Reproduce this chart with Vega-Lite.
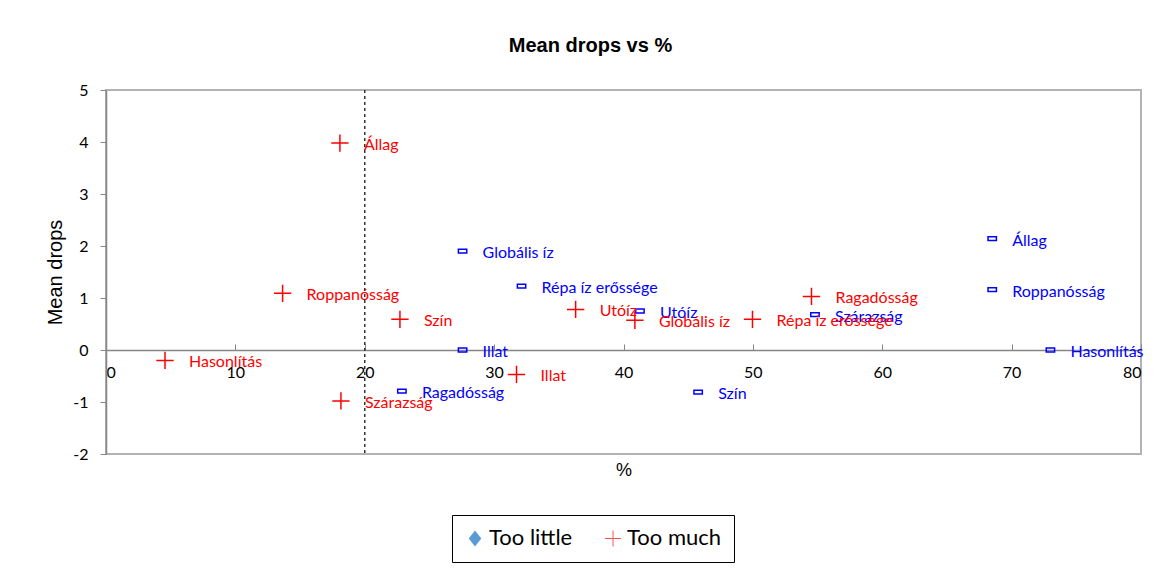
{
  "$schema": "https://vega.github.io/schema/vega-lite/v6.json",
  "width": 1035,
  "height": 364,
  "autosize": {"type": "none"},
  "padding": {"left": 106, "top": 90, "right": 28, "bottom": 118},
  "background": "white",
  "title": {"text": "Mean drops vs %", "font": "Liberation Sans", "fontSize": 20, "fontWeight": "bold", "color": "#000000", "offset": 26, "dx": -33},
  "data": {"values": [
    {"series": "Too little", "label": "Globális íz", "pct": 27.56, "drops": 1.9},
    {"series": "Too little", "label": "Répa íz erőssége", "pct": 32.12, "drops": 1.23},
    {"series": "Too little", "label": "Illat", "pct": 27.56, "drops": 0.0},
    {"series": "Too little", "label": "Utóíz", "pct": 41.27, "drops": 0.75},
    {"series": "Too little", "label": "Szín", "pct": 45.77, "drops": -0.81},
    {"series": "Too little", "label": "Ragadósság", "pct": 22.87, "drops": -0.79},
    {"series": "Too little", "label": "Szárazság", "pct": 54.8, "drops": 0.68},
    {"series": "Too little", "label": "Állag", "pct": 68.5, "drops": 2.14},
    {"series": "Too little", "label": "Roppanósság", "pct": 68.5, "drops": 1.16},
    {"series": "Too little", "label": "Hasonlítás", "pct": 73.0, "drops": 0.0},
    {"series": "Too much", "label": "Állag", "pct": 18.08, "drops": 3.98},
    {"series": "Too much", "label": "Roppanósság", "pct": 13.65, "drops": 1.09},
    {"series": "Too much", "label": "Szín", "pct": 22.72, "drops": 0.59},
    {"series": "Too much", "label": "Hasonlítás", "pct": 4.56, "drops": -0.2},
    {"series": "Too much", "label": "Szárazság", "pct": 18.16, "drops": -0.98},
    {"series": "Too much", "label": "Illat", "pct": 31.73, "drops": -0.47},
    {"series": "Too much", "label": "Utóíz", "pct": 36.3, "drops": 0.78},
    {"series": "Too much", "label": "Globális íz", "pct": 40.88, "drops": 0.57},
    {"series": "Too much", "label": "Répa íz erőssége", "pct": 49.97, "drops": 0.59},
    {"series": "Too much", "label": "Ragadósság", "pct": 54.53, "drops": 1.03}
  ]},
  "encoding": {
    "x": {"field": "pct", "type": "quantitative",
      "scale": {"domain": [0, 80], "nice": false},
      "axis": {"title": "%", "offset": -104, "values": [0, 10, 20, 30, 40, 50, 60, 70, 80],
        "grid": false, "domainColor": "#868686", "domainWidth": 1.5, "tickColor": "#868686", "tickSize": -6,
        "labelPadding": 20, "labelFont": "Lato", "labelFontSize": 16, "labelColor": "#000000",
        "titleFont": "Liberation Sans", "titleFontSize": 18, "titleFontWeight": "normal", "titleColor": "#000000",
        "titleY": 120, "titleBaseline": "middle"}},
    "y": {"field": "drops", "type": "quantitative",
      "scale": {"domain": [-2, 5], "nice": false},
      "axis": {"title": "Mean drops", "values": [-2, -1, 0, 1, 2, 3, 4, 5],
        "labelExpr": "replace(datum.label, '−', '-')",
        "grid": false, "domainColor": "#868686", "domainWidth": 1.5, "tickColor": "#868686", "tickSize": 6,
        "labelPadding": 12, "labelFont": "Lato", "labelFontSize": 16, "labelColor": "#000000",
        "titleFont": "Liberation Sans", "titleFontSize": 20, "titleFontWeight": "normal", "titleColor": "#000000",
        "titleX": -51, "titleY": 182, "titleAngle": -90, "titleAlign": "center", "titleBaseline": "middle"}}
  },
  "layer": [
    {
      "data": {"values": [{"ref": 20}]},
      "mark": {"type": "rule", "color": "#333333", "strokeDash": [3, 3], "strokeWidth": 1.5},
      "encoding": {"x": {"field": "ref", "type": "quantitative"}, "y": null}
    },
    {
      "transform": [{"filter": "datum.series === 'Too little'"}],
      "mark": {"type": "point", "filled": false, "shape": "M-1,-0.45H1V0.45H-1Z", "size": 70, "strokeWidth": 1.5, "color": "#0000ff", "opacity": 1}
    },
    {
      "transform": [{"filter": "datum.series === 'Too much'"}],
      "mark": {"type": "point", "filled": false, "shape": "M-1,0H1M0,-1V1", "size": 300, "strokeWidth": 1.5, "color": "#ff0000", "opacity": 1}
    },
    {
      "data": {"values": []},
      "mark": {"type": "point", "filled": true, "opacity": 1, "strokeWidth": 0},
      "encoding": {
        "fill": {"field": "series", "type": "nominal",
          "scale": {"domain": ["Too little", "Too much"], "range": ["#5b9bd5", "#ff5050"]},
          "legend": {"title": null, "orient": "none", "legendX": 346, "legendY": 425, "direction": "horizontal",
            "strokeColor": "#000000", "padding": 12, "labelFont": "Lato", "labelFontSize": 22, "labelColor": "#000000",
            "symbolSize": 260, "columnPadding": 28, "labelOffset": 3}},
        "shape": {"field": "series", "type": "nominal",
          "scale": {"domain": ["Too little", "Too much"], "range": ["M0,-1L0.78,0L0,1L-0.78,0Z", "M-1,-0.06H-0.06V-1H0.06V-0.06H1V0.06H0.06V1H-0.06V0.06H-1Z"]},
          "legend": {"title": null, "orient": "none", "legendX": 346, "legendY": 425, "direction": "horizontal",
            "strokeColor": "#000000", "padding": 12, "labelFont": "Lato", "labelFontSize": 22, "labelColor": "#000000",
            "symbolSize": 260, "columnPadding": 28, "labelOffset": 3}}
      }
    },
    {
      "transform": [{"filter": "datum.series === 'Too little'"}],
      "mark": {"type": "text", "align": "left", "baseline": "middle", "dx": 20, "dy": 2, "font": "Lato", "fontSize": 16, "color": "#0000ff"},
      "encoding": {"text": {"field": "label"}}
    },
    {
      "transform": [{"filter": "datum.series === 'Too much'"}],
      "mark": {"type": "text", "align": "left", "baseline": "middle", "dx": 24, "dy": 2, "font": "Lato", "fontSize": 16, "color": "#ff0000"},
      "encoding": {"text": {"field": "label"}}
    }
  ],
  "config": {
    "view": {"stroke": "#b3b3b3", "strokeWidth": 2}
  }
}
